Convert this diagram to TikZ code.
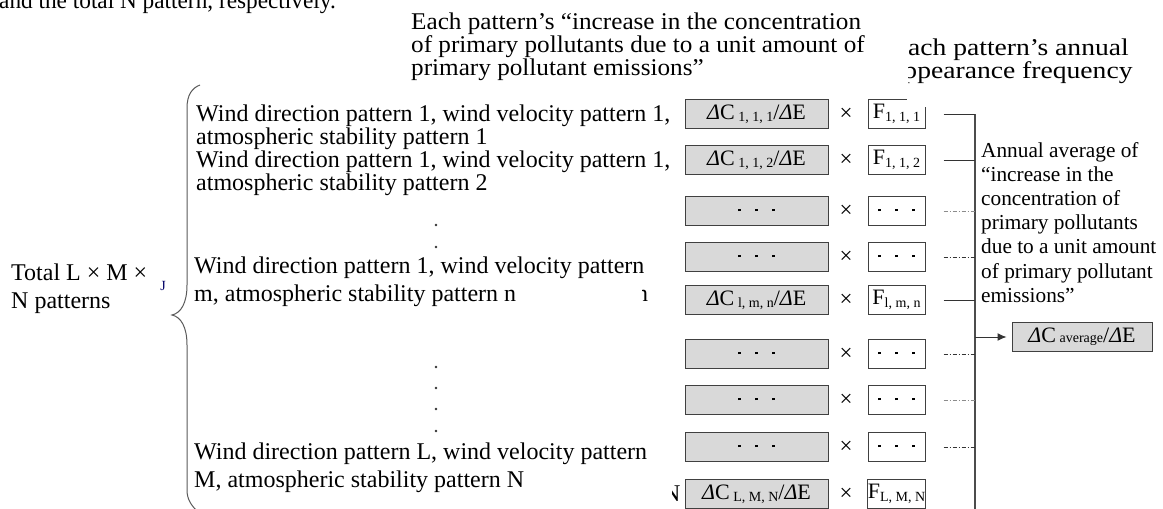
\documentclass[tikz,border=0pt]{standalone}
\usepackage{fontspec}
\setmainfont{Liberation Serif}
\usetikzlibrary{arrows.meta}
\newcommand{\dCE}[1]{\textit{Δ}C\,{\fontsize{14}{14}\selectfont\raisebox{-2pt}{#1}}/\textit{Δ}E}
\newcommand{\Fsub}[1]{F{\fontsize{14}{14}\selectfont\raisebox{-3pt}{#1}}}
\newcommand{\onedot}{\makebox[17pt]{\raisebox{2pt}{\rule{2.4pt}{2.4pt}}}}
\newcommand{\threedots}{\onedot\onedot\onedot}
\begin{document}
\begin{tikzpicture}[x=1pt,y=-1pt,
  txt/.style={anchor=base west, inner sep=0pt, font=\fontsize{24}{23}\selectfont},
  txtB/.style={anchor=base west, inner sep=0pt, font=\fontsize{24}{28.5}\selectfont},
  txtT/.style={anchor=base west, inner sep=0pt, font=\fontsize{24}{21.5}\selectfont},
  txtR/.style={anchor=base west, inner sep=0pt, font=\fontsize{21.3}{24.2}\selectfont},
  cbox/.style={draw=black!75, fill=black!15, line width=1pt, minimum width=143pt, minimum height=29pt, inner sep=0pt, font=\fontsize{22}{24}\selectfont},
  fbox/.style={draw=black!75, fill=white, line width=1pt, minimum width=57pt, minimum height=29pt, inner sep=0pt, font=\fontsize{22}{24}\selectfont},
  timesign/.style={inner sep=0pt, font=\fontsize{23}{24}\selectfont},
  conn/.style={draw=black!80, line width=1pt},
  dconn/.style={conn, dash pattern=on 4pt off 2pt on 1pt off 2pt},
  gconn/.style={dconn, draw=black!45},
  bracestyle/.style={draw=black!65, line width=1pt},
  dotmark/.style={fill=black!80, draw=none, circle, inner sep=0pt, minimum size=2.6pt},
]
\useasboundingbox (0,0) rectangle (1163,509);
\clip (0,0) rectangle (1163,509);

% clipped top line
\node[txt] (cut) at (-1,8) {\scalebox{0.97}[1]{and the total N pattern, respectively.}};

% heading texts
\node[txtT] (head1) at (411,29) {\scalebox{1.05}[1]{\begin{tabular}[t]{@{}l@{}}Each pattern’s “increase in the concentration\\ of primary pollutants due to a unit amount of\\ primary pollutant emissions”\end{tabular}}};
\begin{scope}
  \clip (908,30) rectangle (1163,106.5);
  \node[txtT] (head2) at (891,55) {\scalebox{1.15}[1]{\begin{tabular}[t]{@{}l@{}}Each pattern’s annual\\ appearance frequency\end{tabular}}};
\end{scope}

% left label and brace
\node[txtB] (total) at (11,280) {\begin{tabular}[t]{@{}l@{}}Total L × M ×\\ N patterns\end{tabular}};
\node[inner sep=0pt, font=\fontsize{14}{14}\selectfont, text=blue!40!black] (jmark) at (163,286) {J};
\draw[bracestyle] (200,85) .. controls (192,88) and (187,95) .. (187,108) -- (187,285)
  .. controls (187,303) and (181,313) .. (172,315)
  .. controls (181,317) and (187,327) .. (187,345) -- (187,490)
  .. controls (187,499) and (191,505) .. (197,511);

% pattern texts
\node[txt] (p1) at (196,121) {\begin{tabular}[t]{@{}l@{}}Wind direction pattern 1, wind velocity pattern 1,\\ atmospheric stability pattern 1\end{tabular}};
\node[txt] (p2) at (196,167) {\begin{tabular}[t]{@{}l@{}}Wind direction pattern 1, wind velocity pattern 1,\\ atmospheric stability pattern 2\end{tabular}};
\node[dotmark] (d1) at (436,225) {};
\node[dotmark] (d2) at (436,247) {};
\node[txtB] (p3) at (194,273) {\begin{tabular}[t]{@{}l@{}}Wind direction pattern 1, wind velocity pattern\\ m, atmospheric stability pattern n\end{tabular}};
\node[dotmark] (d3) at (436,367) {};
\node[dotmark] (d4) at (436,388) {};
\node[dotmark] (d5) at (436,409) {};
\node[dotmark] (d6) at (436,431) {};
\node[txtB] (p4) at (194,459) {\begin{tabular}[t]{@{}l@{}}Wind direction pattern L, wind velocity pattern\\ M, atmospheric stability pattern N\end{tabular}};

% fragments of hidden text
\begin{scope}
  \clip (642,280) rectangle (652,306);
  \node[txt] (fragn) at (636,301) {n};
\end{scope}
\begin{scope}
  \clip (672,470) rectangle (683,509);
  \node[txt] (fragN) at (663,501) {N};
\end{scope}

% boxes rows
\foreach \y/\c/\f/\nm in {
  114/{\dCE{1, 1, 1}}/{\Fsub{1, 1, 1}}/1,
  160/{\dCE{1, 1, 2}}/{\Fsub{1, 1, 2}}/2,
  211/{\threedots}/{\threedots}/3,
  257/{\threedots}/{\threedots}/4,
  300/{\dCE{l, m, n}}/{\Fsub{l, m, n}}/5,
  354/{\threedots}/{\threedots}/6,
  400/{\threedots}/{\threedots}/7,
  447/{\threedots}/{\threedots}/8,
  494/{\dCE{L, M, N}}/{\Fsub{L, M, N}}/9}{
  \node[cbox] (c\nm) at (756.5,\y) {\c};
  \node[timesign] (x\nm) at (846,\y) {×};
  \node[fbox] (f\nm) at (896.5,\y) {\f};
}
% the heading's white area covers the top right corner of the first F box
\fill[white] (907,95) rectangle (930,106.5);

% collector line
\coordinate (vtop) at (975,114);
\coordinate (vbot) at (975,512);
\draw[conn, draw=black!70, line width=1.3pt] (vtop) -- (vbot);
\draw[conn] ([xshift=18pt]f1.east) -- (f1.east -| vtop);
\draw[conn] ([xshift=18pt]f2.east) -- (f2.east -| vtop);
\draw[gconn] ([xshift=18pt]f3.east) -- (f3.east -| vtop);
\draw[dconn] ([xshift=18pt]f4.east) -- (f4.east -| vtop);
\draw[conn] ([xshift=18pt]f5.east) -- (f5.east -| vtop);
\draw[dconn] ([xshift=18pt]f6.east) -- (f6.east -| vtop);
\draw[gconn] ([xshift=18pt]f7.east) -- (f7.east -| vtop);
\draw[dconn] ([xshift=18pt]f8.east) -- (f8.east -| vtop);

% right annotation
\node[txtR] (annual) at (981,157) {\begin{tabular}[t]{@{}l@{}}Annual average of\\ “increase in the\\ concentration of\\ primary pollutants\\ due to a unit amount\\ of primary pollutant\\ emissions”\end{tabular}};

% result
\node[cbox, minimum width=140pt] (avg) at (1082,337) {\textit{Δ}C\,{\fontsize{14}{14}\selectfont average}/\textit{Δ}E};
\draw[conn, -{Latex[length=9pt,width=8pt]}] (avg.west -| vtop) -- ([xshift=-5pt]avg.west);
\end{tikzpicture}
\end{document}
